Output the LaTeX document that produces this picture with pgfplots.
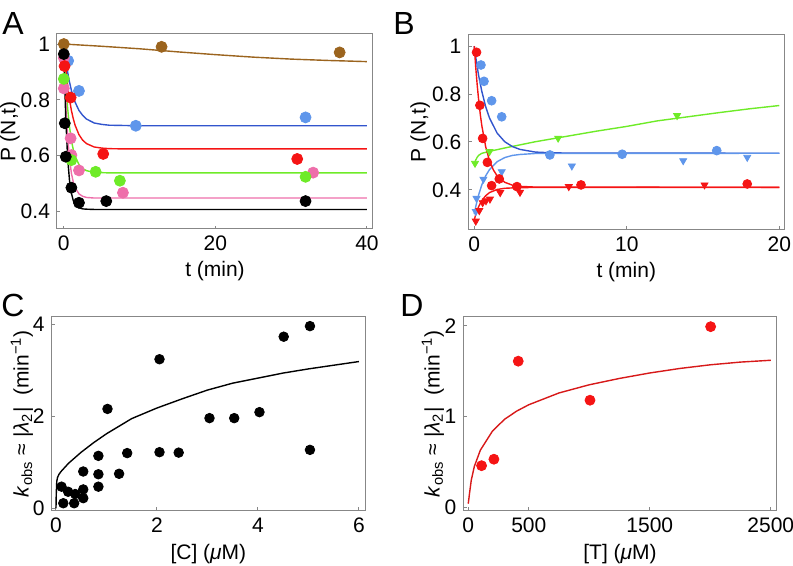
\documentclass[border=0pt]{standalone}
\usepackage{fontspec}
\setmainfont{Liberation Sans}
\usepackage{pgfplots}
\pgfplotsset{compat=1.18}

\definecolor{cbrown}{RGB}{155,100,30}
\definecolor{cblueline}{RGB}{50,85,205}
\definecolor{cbluedot}{RGB}{95,150,235}
\definecolor{cred}{RGB}{245,20,20}
\definecolor{cgreen}{RGB}{110,235,40}
\definecolor{cpink}{RGB}{238,110,170}
\definecolor{cdred}{RGB}{215,25,25}
\definecolor{frame}{RGB}{135,135,135}

\pgfplotsset{
  panel/.style={
    scale only axis, anchor=south west,
    axis line style={frame, line width=0.5pt},
    tick pos=left, tick align=inside, major tick length=1.6pt,
    tick style={frame, line width=0.5pt},
    ticklabel style={font=\fontsize{10.5}{12}\selectfont},
    label style={font=\fontsize{10.5}{12}\selectfont},
    /pgf/number format/assume math mode=true,
    /pgf/number format/1000 sep={},
  },
  ylab/.style={ylabel style={at={(axis description cs:#1,0.5)}, anchor=center}},
  xlab/.style={xlabel style={at={(axis description cs:0.5,#1)}, anchor=center}},
  fit/.style={line width=0.7pt, mark=none},
  dot/.style={only marks, mark=*, mark size=#1},
  tri/.style={only marks, mark=triangle*, mark size=2pt, mark options={rotate=180}},
}

\begin{document}
\begin{tikzpicture}[x=1pt,y=1pt]
\useasboundingbox (0,0) rectangle (396.5,283);

\node[anchor=base west, inner sep=0, font=\fontsize{16}{16}\selectfont] at (1,265.5) {A};
\node[anchor=base west, inner sep=0, font=\fontsize{16}{16}\selectfont] at (196.5,265.5) {B};
\node[anchor=base west, inner sep=0, font=\fontsize{16}{16}\selectfont] at (0.5,124.5) {C};
\node[anchor=base west, inner sep=0, font=\fontsize{16}{16}\selectfont] at (200,124.5) {D};

% ---- A ----
\begin{axis}[panel, at={(28.5pt,168.5pt)}, width=158pt, height=97.5pt,
  xmin=-0.9, xmax=40.8, ymin=0.337, ymax=1.036,
  xtick={0,20,40}, ytick={0.4,0.6,0.8,1},
  xlabel={t (min)}, ylabel={P (N,t)}, ylab=-0.149, xlab=-0.218]
\addplot[fit, cbrown] coordinates {(0,1.0)(5,0.992)(10,0.983)(15,0.972)(20,0.962)(25,0.953)(30,0.946)(35,0.941)(40,0.937)};
\addplot[fit, cblueline] coordinates {(0,1.0)(0.1,0.977)(0.25,0.945)(0.5,0.900)(0.75,0.864)(1,0.834)(1.25,0.810)(1.5,0.791)(2,0.762)(2.5,0.744)(3,0.731)(4,0.717)(5,0.712)(6,0.709)(8,0.708)(10,0.707)(40,0.707)};
\addplot[fit, cred] coordinates {(0,1.0)(0.1,0.964)(0.25,0.917)(0.5,0.852)(0.75,0.802)(1,0.762)(1.25,0.732)(1.5,0.708)(2,0.675)(2.5,0.655)(3,0.643)(4,0.631)(5,0.627)(6,0.625)(8,0.624)(40,0.624)};
\addplot[fit, cgreen] coordinates {(0,1.0)(0.1,0.941)(0.25,0.866)(0.5,0.771)(0.75,0.703)(1,0.655)(1.25,0.621)(1.5,0.597)(2,0.568)(2.5,0.553)(3,0.546)(4,0.540)(5,0.539)(6,0.538)(40,0.538)};
\addplot[fit, cpink] coordinates {(0,1.0)(0.1,0.908)(0.25,0.799)(0.5,0.670)(0.75,0.589)(1,0.537)(1.25,0.505)(1.5,0.484)(2,0.463)(2.5,0.454)(3,0.450)(4,0.448)(40,0.448)};
\addplot[fit, black] coordinates {(0,1.0)(0.1,0.877)(0.25,0.739)(0.5,0.593)(0.75,0.511)(1,0.465)(1.25,0.439)(1.5,0.425)(2,0.413)(2.5,0.409)(3,0.408)(4,0.407)(40,0.407)};
\addplot[dot=2.75pt, cbrown] coordinates {(0,1.0)(12.9,0.990)(36.4,0.970)};
\addplot[dot=2.75pt, cbluedot] coordinates {(0.57,0.940)(2.0,0.832)(9.5,0.707)(31.9,0.737)};
\addplot[dot=2.75pt, cpink] coordinates {(0,0.95)(0,0.841)(0.9,0.662)(1.0,0.602)(2.0,0.547)(7.8,0.467)(32.9,0.539)};
\addplot[dot=2.75pt, cred] coordinates {(0.1,0.921)(0.9,0.808)(5.2,0.606)(30.8,0.588)};
\addplot[dot=2.75pt, cgreen] coordinates {(0,0.875)(1.0,0.584)(4.2,0.542)(7.4,0.510)(31.9,0.524)};
\addplot[dot=2.75pt, black] coordinates {(0,0.964)(0.13,0.716)(0.26,0.596)(1.0,0.485)(2.0,0.431)(5.6,0.437)(31.9,0.437)};
\end{axis}

% ---- B ----
\begin{axis}[panel, at={(234.15pt,168.35pt)}, width=158pt, height=97.5pt,
  xmin=-0.39, xmax=20.33, ymin=0.236, ymax=1.049,
  xtick={0,10,20}, ytick={0.4,0.6,0.8,1},
  xlabel={t (min)}, ylabel={P (N,t)}, ylab=-0.152, xlab=-0.218]
\addplot[fit, cgreen] coordinates {(0,0.51)(0.1,0.525)(0.2,0.537)(0.3,0.545)(0.5,0.553)(0.75,0.557)(1,0.561)(2,0.575)(3,0.588)(4,0.601)(5,0.612)(6,0.623)(8,0.645)(10,0.665)(12,0.688)(14,0.705)(16,0.722)(18,0.738)(20,0.752)};
\addplot[fit, cblueline] coordinates {(0,1.0)(0.1,0.953)(0.2,0.911)(0.3,0.873)(0.5,0.810)(0.75,0.747)(1,0.700)(1.5,0.637)(2,0.601)(2.5,0.581)(3,0.569)(4,0.558)(5,0.555)(6,0.554)(20,0.553)};
\addplot[fit, cbluedot] coordinates {(0,0.30)(0.1,0.331)(0.2,0.358)(0.3,0.382)(0.5,0.422)(0.75,0.459)(1,0.485)(1.5,0.518)(2,0.535)(2.5,0.544)(3,0.548)(4,0.552)(20,0.553)};
\addplot[fit, cred] coordinates {(0,1.0)(0.1,0.909)(0.2,0.833)(0.3,0.768)(0.4,0.713)(0.5,0.667)(0.75,0.580)(1,0.522)(1.25,0.484)(1.5,0.459)(2,0.432)(2.5,0.420)(3,0.415)(4,0.412)(20,0.411)};
\addplot[fit, cred] coordinates {(0,0.275)(0.1,0.298)(0.2,0.316)(0.3,0.332)(0.5,0.356)(0.75,0.376)(1,0.389)(1.5,0.402)(2,0.407)(3,0.410)(20,0.411)};
\addplot[dot=2.2pt, cbluedot] coordinates {(0.44,0.921)(0.64,0.853)(1.14,0.772)(1.8,0.705)(4.96,0.546)(9.7,0.549)(15.9,0.564)};
\addplot[tri, cbluedot] coordinates {(0.1,0.31)(0.15,0.365)(0.6,0.445)(1.8,0.476)(6.4,0.50)(13.7,0.522)(17.9,0.536)};
\addplot[tri, cgreen] coordinates {(0.05,0.511)(1.0,0.56)(5.5,0.616)(13.3,0.71)};
\addplot[tri, cred] coordinates {(0.1,0.27)(0.33,0.314)(0.55,0.347)(0.77,0.355)(1.03,0.362)(1.7,0.389)(3.0,0.39)(6.2,0.414)(15.1,0.421)};
\addplot[dot=2.2pt, cred] coordinates {(0.15,0.974)(0.37,0.753)(0.55,0.615)(0.86,0.515)(1.14,0.418)(1.64,0.446)(2.8,0.414)(7.0,0.421)(17.9,0.425)};
\end{axis}

% ---- C ----
\begin{axis}[panel, at={(25.85pt,27.65pt)}, width=156.65pt, height=97pt,
  xmin=-0.085, xmax=6.12, ymin=-0.052, ymax=4.165,
  xtick={0,2,4,6}, ytick={0,2,4},
  xlabel={[C] (\textit{μ}M)}, ylab=-0.095, xlab=-0.225,
  ylabel={\textit{k}\textsubscript{obs} ≈ |\textit{λ}\textsubscript{2}|\ \ (min\textsuperscript{−1})}]
\addplot[fit, black] coordinates {(0,0)(0.005,0.3)(0.015,0.58)(0.03,0.67)(0.06,0.74)(0.1,0.80)(0.25,0.98)(0.5,1.22)(0.75,1.43)(1,1.62)(1.5,1.95)(2,2.18)(2.5,2.38)(3,2.57)(3.5,2.72)(4,2.83)(4.5,2.94)(5,3.03)(5.5,3.11)(6,3.19)};
\addplot[dot=2.4pt, black] coordinates {(0.145,0.11)(0.11,0.47)(0.24,0.36)(0.36,0.11)(0.38,0.31)(0.54,0.22)(0.54,0.41)(0.54,0.80)(0.84,0.47)(0.84,0.74)(0.84,1.14)(1.02,2.16)(1.25,0.75)(1.41,1.20)(2.05,3.24)(2.05,1.22)(2.43,1.21)(3.04,1.96)(3.53,1.96)(4.03,2.09)(4.51,3.73)(5.03,3.96)(5.03,1.27)};
\end{axis}

% ---- D ----
\begin{axis}[panel, at={(231.65pt,27.65pt)}, width=156.7pt, height=97pt,
  xmin=-41, xmax=2549, ymin=-0.037, ymax=2.10,
  xtick={0,500,1500,2500}, ytick={0,1,2},
  xlabel={[T] (\textit{μ}M)}, ylab=-0.097, xlab=-0.225,
  ylabel={\textit{k}\textsubscript{obs} ≈ |\textit{λ}\textsubscript{2}|\ \ (min\textsuperscript{−1})}]
\addplot[fit, cdred] coordinates {(0,0.04)(10,0.15)(25,0.30)(50,0.45)(100,0.63)(200,0.84)(300,0.97)(400,1.06)(500,1.13)(750,1.26)(1000,1.35)(1250,1.42)(1500,1.48)(1750,1.53)(2000,1.57)(2250,1.60)(2500,1.62)};
\addplot[dot=2.5pt, cred] coordinates {(110,0.459)(212,0.53)(413,1.61)(1006,1.18)(2003,1.99)};
\end{axis}
\end{tikzpicture}
\end{document}
